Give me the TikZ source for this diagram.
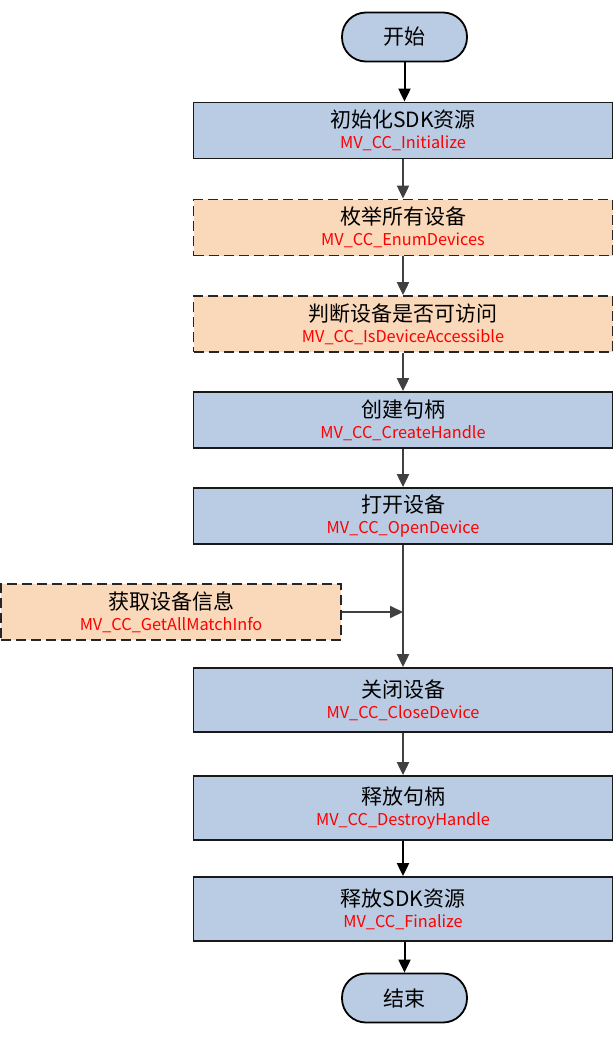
\documentclass[tikz,border=0pt]{standalone}
\usepackage{fontspec}
\setmainfont{Noto Sans CJK SC}
\usetikzlibrary{arrows.meta,positioning,calc}

\definecolor{boxblue}{HTML}{B9CCE4}
\definecolor{boxpeach}{HTML}{FAD8BA}
\definecolor{arrowgray}{HTML}{404040}
\definecolor{apired}{HTML}{FF0000}

\newcommand{\steptext}[2]{{\fontsize{21}{24}\selectfont #1}\\[5.5pt]{\fontsize{16.3}{24}\selectfont\color{apired}#2}}

\tikzset{
  pill/.style={draw=black, line width=1.8pt, fill=boxblue, rounded corners=24pt,
    minimum width=125pt, minimum height=49pt, inner sep=0pt,
    font=\fontsize{21}{24}\selectfont},
  solidbox/.style={draw=black!90, line width=1.8pt, fill=boxblue,
    minimum width=419pt, minimum height=56pt, inner sep=0pt, align=center},
  optbox/.style={solidbox, fill=boxpeach, draw=black!85, dash pattern=on 10pt off 5pt},
  flow/.style={draw=arrowgray, line width=2pt, -{Triangle[length=13pt,width=12pt,fill=arrowgray]}},
  flowdark/.style={draw=black, line width=2pt, -{Triangle[length=13pt,width=12pt,fill=black]}}
}

\begin{document}
\begin{tikzpicture}[x=1pt,y=-1pt]
\useasboundingbox (0,0) rectangle (614,1039);

\node[pill] (start) at (404.5,37) {开始};
\node[solidbox] (init)   at (403,130.5) {\steptext{初始化SDK资源}{MV\_CC\_Initialize}};
\node[optbox]   (enum)   at (403,227.5) {\steptext{枚举所有设备}{MV\_CC\_EnumDevices}};
\node[optbox]   (access) at (403,324)   {\steptext{判断设备是否可访问}{MV\_CC\_IsDeviceAccessible}};
\node[solidbox] (create) at (403,420)   {\steptext{创建句柄}{MV\_CC\_CreateHandle}};
\node[solidbox] (open)   at (403,516)   {\steptext{打开设备}{MV\_CC\_OpenDevice}};
\node[optbox, minimum width=340pt] (info) at (171,612) {\steptext{获取设备信息}{MV\_CC\_GetAllMatchInfo}};
\node[solidbox, minimum height=64pt] (close)   at (403,700) {\steptext{关闭设备}{MV\_CC\_CloseDevice}};
\node[solidbox, minimum height=64pt] (destroy) at (403,808) {\steptext{释放句柄}{MV\_CC\_DestroyHandle}};
\node[solidbox, minimum height=64pt] (final)   at (403,909) {\steptext{释放SDK资源}{MV\_CC\_Finalize}};
\node[pill] (stop) at (404.5,998) {结束};

% junction where the optional query joins the main line
\coordinate (join) at (open.south |- info.east);

\draw[flowdark] (start) -- (init.north -| start);
\draw[flow] (init) -- (enum);
\draw[flow] (enum) -- (access);
\draw[flow] (access) -- (create);
\draw[flow] (create) -- (open);
\draw[flow] (open) -- (close);
\draw[flow] (info.east) -- (join);
\draw[flow] (close) -- (destroy);
\draw[flowdark] (destroy) -- (final);
\draw[flowdark] (final.south -| stop) -- (stop);
\end{tikzpicture}
\end{document}
